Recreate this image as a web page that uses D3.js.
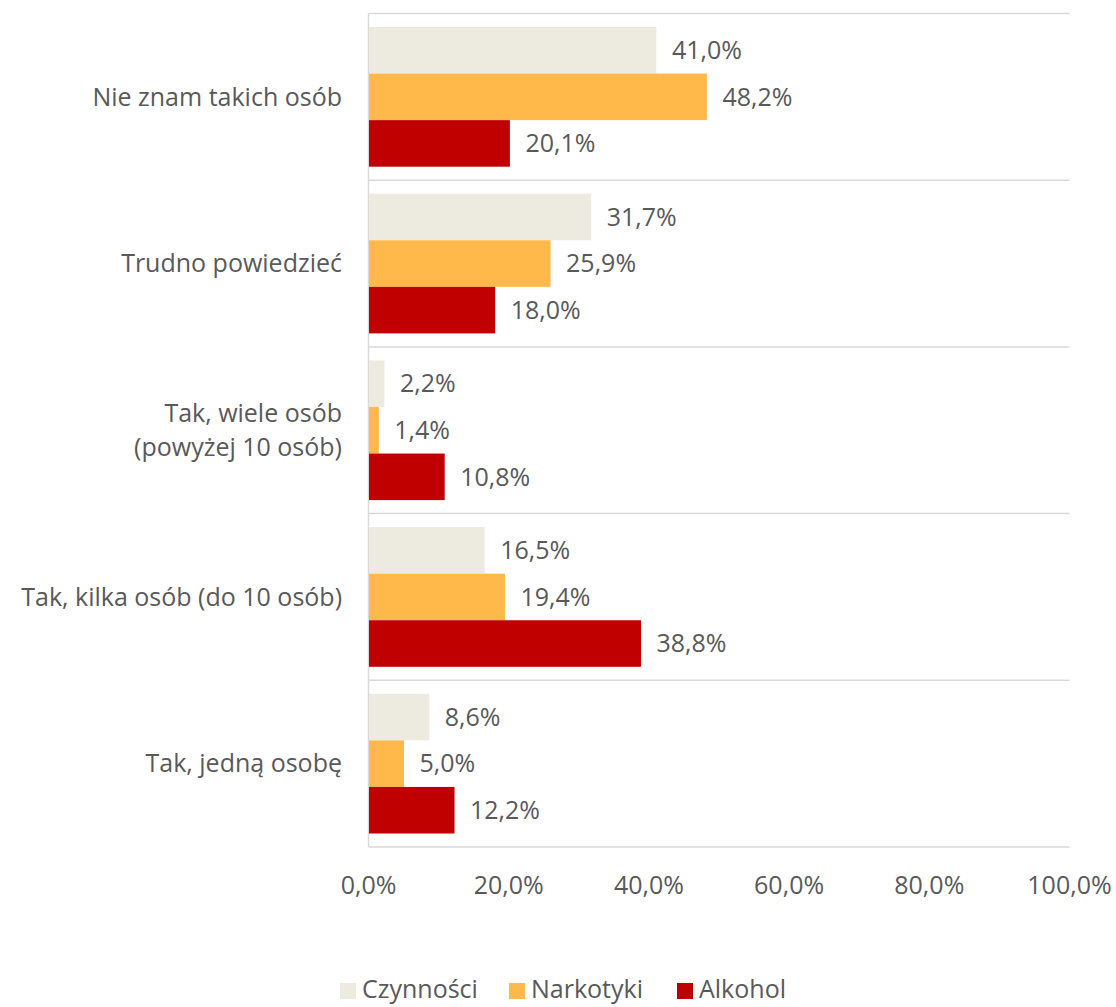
<!DOCTYPE html>
<html>
<head>
<meta charset="utf-8">
<script src="https://cdn.jsdelivr.net/npm/d3@7"></script>
<style>
  body { margin: 0; background: #fff; }
  text { font-family: "Open Sans", "Noto Sans", sans-serif; fill: #595959; font-size: 25px; }
</style>
</head>
<body>
<script>
var width = 1116
var height = 1007

var categories = [
  ["Nie znam takich osób"],
  ["Trudno powiedzieć"],
  ["Tak, wiele osób", "(powyżej 10 osób)"],
  ["Tak, kilka osób (do 10 osób)"],
  ["Tak, jedną osobę"]
]
var seriesNames = ["Czynności", "Narkotyki", "Alkohol"]
var czynnosci = [41.0, 31.7, 2.2, 16.5, 8.6]
var narkotyki = [48.2, 25.9, 1.4, 19.4, 5.0]
var alkohol = [20.1, 18.0, 10.8, 38.8, 12.2]
var ticks = [0, 20, 40, 60, 80, 100]
var colors = ["#edebe0", "#ffb94a", "#c00000"]

var series = [czynnosci, narkotyki, alkohol]
var fmt = function (v) { return v.toFixed(1).replace(".", ",") + "%" }

var svg = d3.select("body").append("svg")
  .attr("width", width)
  .attr("height", height)

var x = d3.scaleLinear().domain([0, 100]).range([368.5, 1069.5])
var y = d3.scaleBand().domain(d3.range(categories.length)).range([13.5, 847]).paddingInner(0)
var ySub = d3.scaleBand().domain(d3.range(series.length)).range([0, y.bandwidth()]).paddingOuter(0.29).paddingInner(0)

// category separators
svg.append("g").selectAll("line")
  .data(d3.range(categories.length + 1))
  .enter().append("line")
  .attr("x1", x(0)).attr("x2", x(100))
  .attr("y1", function (i) { return i < categories.length ? y(i) : y.range()[1] })
  .attr("y2", function (i) { return i < categories.length ? y(i) : y.range()[1] })
  .attr("stroke", "#d9d9d9").attr("stroke-width", 1.5)

svg.append("line")
  .attr("x1", x(0)).attr("x2", x(0))
  .attr("y1", y.range()[0]).attr("y2", y.range()[1])
  .attr("stroke", "#d9d9d9").attr("stroke-width", 1.5)

var groups = svg.selectAll(".cat")
  .data(categories)
  .enter().append("g")
  .attr("class", "cat")
  .attr("transform", function (d, i) { return "translate(0," + y(i) + ")" })

series.forEach(function (s, si) {
  groups.append("rect")
    .attr("x", x(0) + 0.5)
    .attr("y", ySub(si))
    .attr("width", function (d, i) { return x(s[i]) - x(0) })
    .attr("height", ySub.bandwidth())
    .attr("fill", colors[si])

  groups.append("text")
    .attr("x", function (d, i) { return x(s[i]) + 16 })
    .attr("y", ySub(si) + ySub.bandwidth() / 2)
    .attr("dy", "0.35em")
    .text(function (d, i) { return fmt(s[i]) })
})

groups.append("text")
  .attr("text-anchor", "end")
  .attr("x", 342)
  .attr("y", function (d) { return y.bandwidth() / 2 - (d.length - 1) * 17 })
  .selectAll("tspan")
  .data(function (d) { return d })
  .enter().append("tspan")
  .attr("x", 342)
  .attr("dy", function (d, i) { return i === 0 ? "0.35em" : "34px" })
  .text(function (d) { return d })

svg.append("g").selectAll("text")
  .data(ticks)
  .enter().append("text")
  .attr("x", function (d) { return x(d) })
  .attr("y", 885)
  .attr("dy", "0.35em")
  .attr("text-anchor", "middle")
  .text(function (d) { return fmt(d) })

// legend
var legendX = [340, 509, 677]
var legend = svg.selectAll(".legend")
  .data(seriesNames)
  .enter().append("g")
  .attr("class", "legend")
  .attr("transform", function (d, i) { return "translate(" + legendX[i] + ",989)" })
legend.append("rect")
  .attr("x", 0).attr("y", -6)
  .attr("width", 16).attr("height", 16)
  .attr("fill", function (d, i) { return colors[i] })
legend.append("text")
  .attr("x", 22).attr("y", 0)
  .attr("dy", "0.35em")
  .text(function (d) { return d })
</script>
</body>
</html>
